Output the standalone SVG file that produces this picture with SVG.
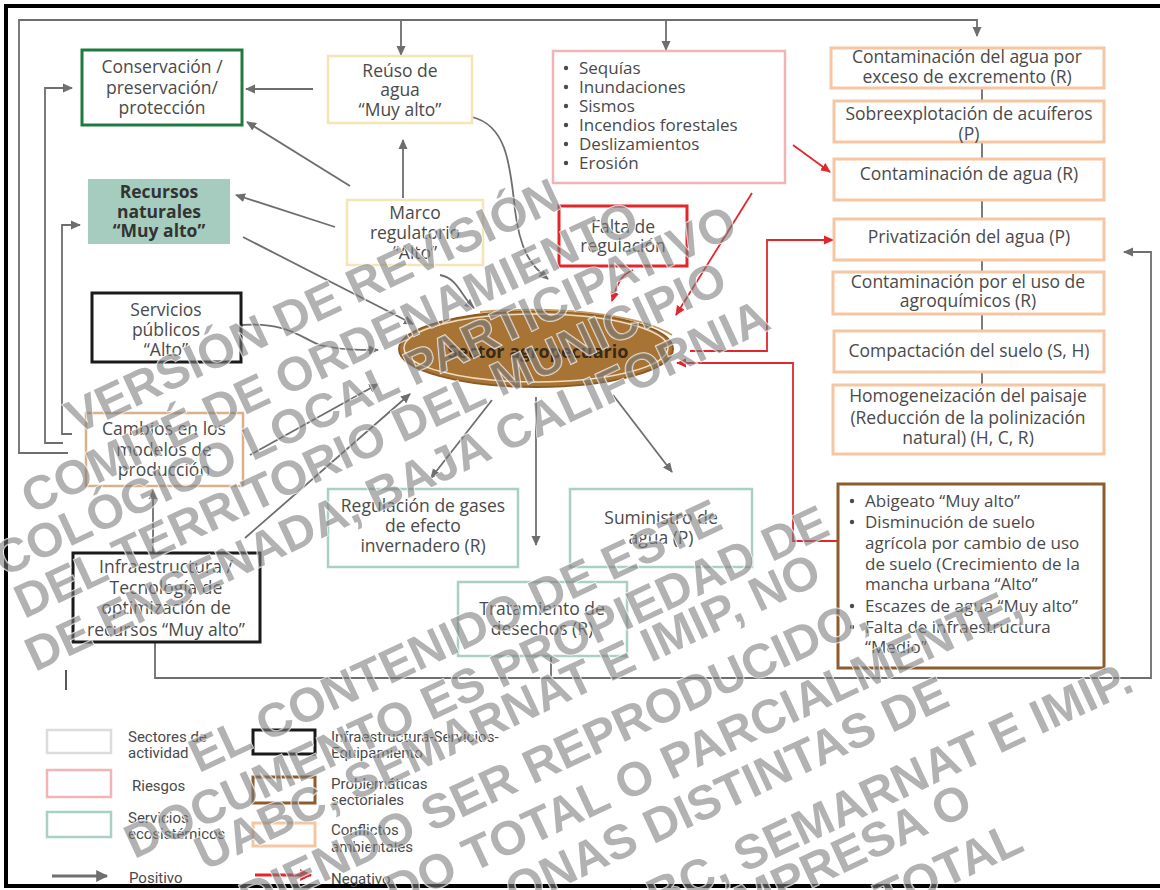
<svg xmlns="http://www.w3.org/2000/svg" width="1160" height="890" viewBox="0 0 1160 890">
<defs>
<marker id="ag" viewBox="0 0 10 10" refX="9" refY="5" markerWidth="10" markerHeight="10" markerUnits="userSpaceOnUse" orient="auto"><path d="M0,0.5 L10,5 L0,9.5 z" fill="#6e6e6e"/></marker>
<marker id="ar" viewBox="0 0 10 10" refX="9" refY="5" markerWidth="10" markerHeight="10" markerUnits="userSpaceOnUse" orient="auto"><path d="M0,0.5 L10,5 L0,9.5 z" fill="#e3262b"/></marker>
<marker id="agL" viewBox="0 0 10 10" refX="9" refY="5" markerWidth="14" markerHeight="12" markerUnits="userSpaceOnUse" orient="auto"><path d="M0,0 L10,5 L0,10 z" fill="#6e6e6e"/></marker>
<marker id="arL" viewBox="0 0 10 10" refX="9" refY="5" markerWidth="14" markerHeight="12" markerUnits="userSpaceOnUse" orient="auto"><path d="M0,0 L10,5 L0,10 z" fill="#e3262b"/></marker>
</defs>
<style>
.t{font-family:"Open Sans","Liberation Sans",sans-serif;font-size:17.5px;fill:#4a4a4a;text-anchor:middle}
.tl{font-family:"Open Sans","Liberation Sans",sans-serif;font-size:17px;fill:#4a4a4a}
.tb{font-family:"Open Sans","Liberation Sans",sans-serif;font-size:17.5px;fill:#333;font-weight:bold;text-anchor:middle}
.lg{font-family:Roboto,"Liberation Sans",sans-serif;font-size:15px;fill:#4a4a4a}
.b{fill:#fff}
.green{stroke:#1f7a3f;stroke-width:3}
.yel{stroke:#f4e6b4;stroke-width:2.5}
.pink{stroke:#f2b5b7;stroke-width:2.5}
.peach{stroke:#f6c6a3;stroke-width:3}
.red{stroke:#e3262b;stroke-width:3}
.blk{stroke:#1a1a1a;stroke-width:3}
.teal{stroke:#a8d1c3;stroke-width:2.5}
.tan{stroke:#d9b088;stroke-width:2.5}
.brn{stroke:#8e5c2c;stroke-width:3}
.lgray{stroke:#dcdcdc;stroke-width:2.5}
.cg{fill:none;stroke:#6e6e6e;stroke-width:1.8}
.cr{fill:none;stroke:#e3262b;stroke-width:1.8}
.wm{font-family:"Liberation Sans",Arial,sans-serif;font-weight:bold;font-size:48px;fill:#7a7a7a;fill-opacity:0.58;stroke:#fff;stroke-width:1.5;stroke-opacity:0.8;paint-order:stroke;text-anchor:end}
</style>
<rect x="0" y="0" width="1160" height="890" fill="#fff"/>
<rect x="6" y="6" width="1170" height="880" fill="none" stroke="#000" stroke-width="4"/>

<g id="connectors">
<path class="cg" d="M68,453 H19 V20 H977 V36" marker-end="url(#ag)"/>
<path class="cg" d="M401,20 V55" marker-end="url(#ag)"/>
<path class="cg" d="M666,20 V50" marker-end="url(#ag)"/>
<path class="cg" d="M63,443 H45 V88 H72" marker-end="url(#ag)"/>
<path class="cg" d="M72,434 H62 V225 H80" marker-end="url(#ag)"/>
<path class="cg" d="M313,89 H246" marker-end="url(#ag)"/>
<path class="cg" d="M350,186 L247,122" marker-end="url(#ag)"/>
<path class="cg" d="M335,227 L236,195" marker-end="url(#ag)"/>
<path class="cg" d="M403,198 V140" marker-end="url(#ag)"/>
<path class="cg" d="M472,117 C505,125 510,160 515,210 C520,250 530,265 548,279" marker-end="url(#ag)"/>
<path class="cg" d="M440,275 C458,278 462,298 474,308" marker-end="url(#ag)"/>
<path class="cg" d="M243,237 L413,324" marker-end="url(#ag)"/>
<path class="cg" d="M240,325 C290,322 300,338 320,345 C340,350 360,350 378,350" marker-end="url(#ag)"/>
<path class="cg" d="M250,455 L378,384" marker-end="url(#ag)"/>
<path class="cg" d="M245,538 L410,394" marker-end="url(#ag)"/>
<path class="cg" d="M153,553 V490" marker-end="url(#ag)"/>
<path class="cg" d="M492,400 L431,478" marker-end="url(#ag)"/>
<path class="cg" d="M536,397 V545" marker-end="url(#ag)"/>
<path class="cg" d="M613,395 L672,472" marker-end="url(#ag)"/>
<path class="cg" d="M155,642 V678 H1151 V252 H1124" marker-end="url(#ag)"/>
<path class="cg" d="M551,656 V678"/>
<path class="cg" stroke-width="1" d="M982,88 V101 M982,142 V159 M982,200 V219 M982,260 V272 M982,314 V331 M982,372 V385"/>
<path fill="none" stroke="#222" stroke-width="1.5" d="M66,670 V690"/>
<path class="cr" d="M793,145 L830,172" marker-end="url(#ar)"/>
<path class="cr" d="M752,193 L676,315" marker-end="url(#ar)"/>
<path class="cr" d="M633,270 C620,275 617,285 612,301" marker-end="url(#ar)"/>
<path class="cr" stroke-width="2.2" d="M690,351 H767 V240 H833" marker-end="url(#ar)"/>
<path class="cr" stroke-width="2.2" d="M838,541 H793 V363 H677" marker-end="url(#ar)"/>
</g>

<g id="conservacion"><rect class="b green" x="82" y="50" width="160" height="75"/>
<text class="t" x="162" y="73">Conservación /</text><text class="t" x="162" y="94">preservación/</text><text class="t" x="162" y="114">protección</text></g>

<g id="reuso"><rect class="b yel" x="328" y="56" width="144" height="67"/>
<text class="t" x="400" y="77">Reúso de</text><text class="t" x="400" y="96">agua</text><text class="t" x="400" y="116">“Muy alto”</text></g>

<g id="riesgos"><rect class="b pink" x="553" y="51" width="232" height="132"/>
<g class="tl"><text x="579" y="74">Sequías</text><text x="579" y="93">Inundaciones</text><text x="579" y="112">Sismos</text><text x="579" y="131">Incendios forestales</text><text x="579" y="150">Deslizamientos</text><text x="579" y="169">Erosión</text></g>
<g fill="#4a4a4a"><circle cx="566" cy="68" r="2.2"/><circle cx="566" cy="87" r="2.2"/><circle cx="566" cy="106" r="2.2"/><circle cx="566" cy="125" r="2.2"/><circle cx="566" cy="144" r="2.2"/><circle cx="566" cy="163" r="2.2"/></g></g>

<g id="cont-excremento"><rect class="b peach" x="831" y="48" width="273" height="40"/>
<text class="t" x="967" y="63">Contaminación del agua por</text><text class="t" x="967" y="83">exceso de excremento (R)</text></g>
<g id="sobreexplotacion"><rect class="b peach" x="834" y="101" width="270" height="41"/>
<text class="t" x="969" y="120">Sobreexplotación de acuíferos</text><text class="t" x="969" y="140">(P)</text></g>
<g id="cont-agua"><rect class="b peach" x="834" y="159" width="270" height="41"/>
<text class="t" x="969" y="180">Contaminación de agua (R)</text></g>
<g id="privatizacion"><rect class="b peach" x="834" y="219" width="270" height="41"/>
<text class="t" x="969" y="243">Privatización del agua (P)</text></g>
<g id="agroquimicos"><rect class="b peach" x="833" y="272" width="271" height="42"/>
<text class="t" x="968" y="288">Contaminación por el uso de</text><text class="t" x="968" y="307">agroquímicos (R)</text></g>
<g id="compactacion"><rect class="b peach" x="834" y="331" width="270" height="41"/>
<text class="t" x="969" y="357">Compactación del suelo (S, H)</text></g>
<g id="homogeneizacion"><rect class="b peach" x="833" y="385" width="271" height="69"/>
<text class="t" x="968" y="402">Homogeneización del paisaje</text><text class="t" x="968" y="424">(Reducción de la polinización</text><text class="t" x="968" y="444">natural) (H, C, R)</text></g>

<g id="problematicas"><rect class="b brn" x="838" y="484" width="266" height="184"/>
<g class="tl"><text x="865" y="507">Abigeato “Muy alto”</text><text x="865" y="528">Disminución de suelo</text><text x="865" y="549">agrícola por cambio de uso</text><text x="865" y="570">de suelo (Crecimiento de la</text><text x="865" y="590">mancha urbana “Alto”</text><text x="865" y="612">Escazes de agua “Muy alto”</text><text x="865" y="633">Falta de infraestructura</text><text x="865" y="653">“Medio”</text></g>
<g fill="#4a4a4a"><circle cx="852" cy="501" r="2.2"/><circle cx="852" cy="522" r="2.2"/><circle cx="852" cy="606" r="2.2"/><circle cx="852" cy="627" r="2.2"/></g></g>

<g id="marco"><rect class="b yel" x="347" y="200" width="136" height="65"/>
<text class="t" x="415" y="219">Marco</text><text class="t" x="415" y="239">regulatorio</text><text class="t" x="415" y="259">“Alto”</text></g>

<g id="recursos"><rect x="88" y="179" width="142" height="65" fill="#a5ccbe"/>
<text class="tb" x="159" y="198">Recursos</text><text class="tb" x="159" y="218">naturales</text><text class="tb" x="159" y="237">“Muy alto”</text></g>

<g id="falta"><rect class="b red" x="559" y="206" width="128" height="60"/>
<text class="t" x="623" y="233">Falta de</text><text class="t" x="623" y="252">regulación</text></g>

<g id="servicios"><rect class="b blk" x="92" y="293" width="149" height="69"/>
<text class="t" x="166" y="316">Servicios</text><text class="t" x="166" y="336">públicos</text><text class="t" x="166" y="356">“Alto”</text></g>

<g id="sector">
<ellipse cx="536" cy="349" rx="137" ry="38" fill="#a87436" stroke="#8a5a26" stroke-width="2"/>
<ellipse cx="536" cy="348" rx="132" ry="34" fill="none" stroke="#efdcc0" stroke-width="1.5"/>
<path d="M480,312 C560,305 640,315 672,335" fill="none" stroke="#c79a5e" stroke-width="2"/>
<text x="538" y="358" style="font-family:'Open Sans','Liberation Sans',sans-serif;font-size:18px;font-weight:bold;fill:#3a2a18;text-anchor:middle">Sector agropecuario</text></g>

<g id="cambios"><rect class="b tan" x="86" y="413" width="157" height="73"/>
<text class="t" x="164" y="435">Cambios en los</text><text class="t" x="164" y="456">modelos de</text><text class="t" x="164" y="476">producción</text></g>

<g id="infraestructura"><rect class="b blk" x="73" y="553" width="187" height="89"/>
<text class="t" x="166" y="573">Infraestructura /</text><text class="t" x="166" y="594">Tecnología de</text><text class="t" x="166" y="614">optimización de</text><text class="t" x="166" y="636">recursos “Muy alto”</text></g>

<g id="gases"><rect class="b teal" x="328" y="489" width="190" height="78"/>
<text class="t" x="423" y="512">Regulación de gases</text><text class="t" x="423" y="532">de efecto</text><text class="t" x="423" y="552">invernadero (R)</text></g>

<g id="suministro"><rect class="b teal" x="570" y="489" width="182" height="78"/>
<text class="t" x="661" y="524">Suministro de</text><text class="t" x="661" y="544">agua (P)</text></g>

<g id="tratamiento"><rect class="b teal" x="458" y="582" width="169" height="74"/>
<text class="t" x="542" y="615">Tratamiento de</text><text class="t" x="542" y="635">desechos (R)</text></g>

<g id="legend">
<rect x="47" y="730" width="64" height="23" fill="#fff" class="lgray"/>
<rect x="47" y="770" width="64" height="27" fill="#fff" class="pink"/>
<rect x="47" y="812" width="64" height="25" fill="#fff" class="teal"/>
<rect x="253" y="730" width="62" height="24" fill="#fff" class="blk"/>
<rect x="253" y="777" width="62" height="26" fill="#fff" class="brn"/>
<rect x="253" y="823" width="62" height="23" fill="#fff" class="peach"/>
<path d="M52,876 H107" stroke="#6e6e6e" stroke-width="3" marker-end="url(#agL)"/>
<path d="M255,875 H311" stroke="#e3262b" stroke-width="3" marker-end="url(#arL)"/>
<text class="lg" x="128" y="742">Sectores de</text><text class="lg" x="128" y="758">actividad</text>
<text class="lg" x="132" y="791">Riesgos</text>
<text class="lg" x="128" y="823">Servicios</text><text class="lg" x="128" y="839">ecosistémicos</text>
<text class="lg" x="129" y="883">Positivo</text>
<text class="lg" x="331" y="742">Infraestructura-Servicios-</text><text class="lg" x="331" y="758">Equipamiento</text>
<text class="lg" x="331" y="789">Problemáticas</text><text class="lg" x="331" y="805">sectoriales</text>
<text class="lg" x="331" y="835">Conflictos</text><text class="lg" x="331" y="852">ambientales</text>
<text class="lg" x="331" y="884">Negativo</text>
</g>

<g id="watermark" class="wm">
<text transform="translate(564,207) rotate(-25)">VERSIÓN DE REVISIÓN</text>
<text transform="translate(642,230) rotate(-25)">COMITÉ DE ORDENAMIENTO</text>
<text transform="translate(740,234) rotate(-25)">COLÓGICO LOCAL PARTICIPATIVO</text>
<text transform="translate(730,290) rotate(-25)">DEL TERRITORIO DEL MUNICIPIO</text>
<text transform="translate(773,328) rotate(-25)">DE ENSENADA, BAJA CALIFORNIA</text>
<text transform="translate(725,528) rotate(-25)">EL CONTENIDO DE ESTE</text>
<text transform="translate(832,534) rotate(-25)">DOCUMENTO ES PROPIEDAD DE</text>
<text transform="translate(824,582) rotate(-25)">UABC, SEMARNAT E IMIP, NO</text>
<text transform="translate(871,627) rotate(-25)">DIENDO SER REPRODUCIDO,</text>
<text transform="translate(1025,615) rotate(-25)">DO TOTAL O PARCIALMENTE,</text>
<text transform="translate(952,705) rotate(-25)">ONAS DISTINTAS DE</text>
<text transform="translate(1136,690) rotate(-25)">ABC, SEMARNAT E IMIP.</text>
<text transform="translate(975,812) rotate(-25)">MPRESA O</text>
<text transform="translate(1026,850) rotate(-25)">TOTAL</text>
</g>
</svg>
